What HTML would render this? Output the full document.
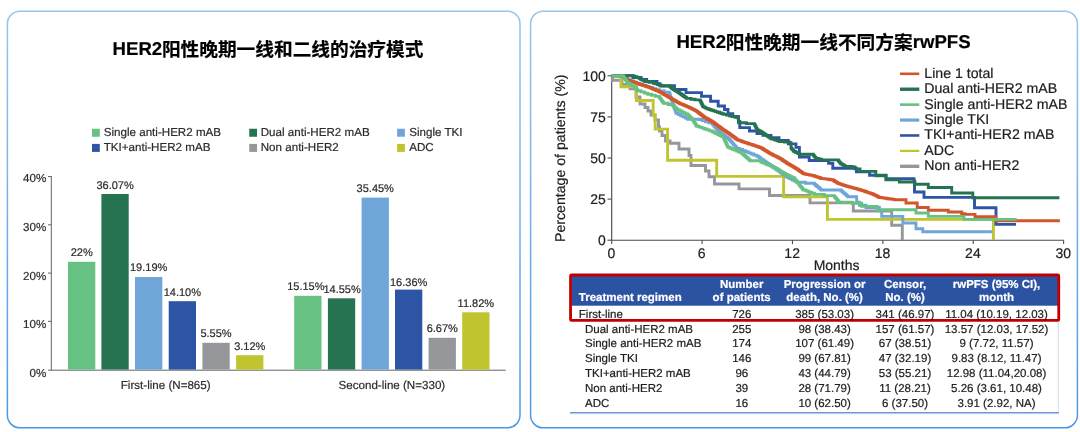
<!DOCTYPE html>
<html lang="zh"><head><meta charset="utf-8"><title>HER2 rwPFS</title>
<style>
html,body{margin:0;padding:0;background:#fff;}
body{width:1080px;height:432px;position:relative;overflow:hidden;font-family:"Liberation Sans", sans-serif;}
#stage{position:absolute;left:0;top:0;width:1080px;height:432px;filter:blur(0.4px);}
svg{position:absolute;left:0;top:0;}
.sr{position:absolute;width:1px;height:1px;margin:-1px;padding:0;overflow:hidden;clip:rect(0 0 0 0);clip-path:inset(50%);white-space:nowrap;border:0;font-size:1px;}
.t{position:absolute;white-space:nowrap;font-family:"Liberation Sans", sans-serif;-webkit-text-stroke:0.2px currentColor;text-rendering:geometricPrecision;}
</style></head><body>
<div id="stage">
<svg width="1080" height="432" viewBox="0 0 1080 432">
<defs><linearGradient id="pg" x1="0" y1="0" x2="0" y2="1"><stop offset="0" stop-color="#97c5ee"/><stop offset="1" stop-color="#4a99e6"/></linearGradient></defs>
<rect x="7.4" y="11.2" width="512.6" height="416.6" rx="12.5" ry="12.5" fill="#fff" stroke="url(#pg)" stroke-width="1.5"/>
<rect x="530.6" y="11.2" width="546.8" height="416.6" rx="12.5" ry="12.5" fill="#fff" stroke="url(#pg)" stroke-width="1.5"/>
<text x="161.9" y="56" font-family="'Liberation Sans', 'Noto Sans CJK SC', sans-serif" font-size="18.68" font-weight="bold" fill="#000" stroke="#000" stroke-width="0.2" textLength="261.5" lengthAdjust="spacing">阳性晚期一线和二线的治疗模式</text>
<rect x="92" y="128.75" width="7.8" height="8" fill="#66c183"/>
<rect x="92" y="143.9" width="7.8" height="8" fill="#2e55a5"/>
<rect x="249.25" y="128.75" width="7.8" height="8" fill="#267352"/>
<rect x="249.25" y="143.9" width="7.8" height="8" fill="#96979a"/>
<rect x="397.1" y="128.75" width="7.8" height="8" fill="#6fa5d8"/>
<rect x="397.1" y="143.9" width="7.8" height="8" fill="#bfc42f"/>
<path d="M51.3 176 V370.2 M48 370.2 H505.8" stroke="#5c5c5c" stroke-width="0.95" fill="none"/>
<path d="M48 321.34 H51.3" stroke="#5c5c5c" stroke-width="0.95"/>
<path d="M48 273.08 H51.3" stroke="#5c5c5c" stroke-width="0.95"/>
<path d="M48 224.82 H51.3" stroke="#5c5c5c" stroke-width="0.95"/>
<path d="M48 176.56 H51.3" stroke="#5c5c5c" stroke-width="0.95"/>
<rect x="68" y="261.8" width="27.3" height="107.80" fill="#66c183"/>
<rect x="101.4" y="194.0" width="27.3" height="175.60" fill="#267352"/>
<rect x="135" y="277.0" width="27.3" height="92.60" fill="#6fa5d8"/>
<rect x="168.7" y="301.2" width="27.3" height="68.40" fill="#2e55a5"/>
<rect x="202.4" y="342.8" width="27.3" height="26.80" fill="#96979a"/>
<rect x="236.1" y="355.2" width="27.3" height="14.40" fill="#bfc42f"/>
<rect x="294.2" y="295.8" width="27.3" height="73.80" fill="#66c183"/>
<rect x="327.9" y="298.3" width="27.3" height="71.30" fill="#267352"/>
<rect x="361.6" y="197.6" width="27.3" height="172.00" fill="#6fa5d8"/>
<rect x="395.0" y="289.6" width="27.3" height="80.00" fill="#2e55a5"/>
<rect x="428.6" y="337.8" width="27.3" height="31.80" fill="#96979a"/>
<rect x="462.2" y="312.3" width="27.3" height="57.30" fill="#bfc42f"/>
<text x="725.7" y="49.1" font-family="'Liberation Sans', 'Noto Sans CJK SC', sans-serif" font-size="18.7" font-weight="bold" fill="#000" stroke="#000" stroke-width="0.2" textLength="187" lengthAdjust="spacing">阳性晚期一线不同方案</text>
<path d="M611.6999999999999 75.6 V240.2 H1063.7" stroke="#4c4c4c" stroke-width="1.15" fill="none"/>
<path d="M607.5 240.20 H611.4" stroke="#4c4c4c" stroke-width="1.1"/>
<path d="M607.5 199.10 H611.4" stroke="#4c4c4c" stroke-width="1.1"/>
<path d="M607.5 158.00 H611.4" stroke="#4c4c4c" stroke-width="1.1"/>
<path d="M607.5 116.90 H611.4" stroke="#4c4c4c" stroke-width="1.1"/>
<path d="M607.5 75.80 H611.4" stroke="#4c4c4c" stroke-width="1.1"/>
<path d="M611.70 240.2 V244.1" stroke="#4c4c4c" stroke-width="1.1"/>
<path d="M702.08 240.2 V244.1" stroke="#4c4c4c" stroke-width="1.1"/>
<path d="M792.46 240.2 V244.1" stroke="#4c4c4c" stroke-width="1.1"/>
<path d="M882.84 240.2 V244.1" stroke="#4c4c4c" stroke-width="1.1"/>
<path d="M973.22 240.2 V244.1" stroke="#4c4c4c" stroke-width="1.1"/>
<path d="M1063.60 240.2 V244.1" stroke="#4c4c4c" stroke-width="1.1"/>
<g>
<path d="M611.8 75.8H612.3V80.3H622.0V84.5H630.0V88.7H636.0V97.0H640.0V104.0H645.0V107.5H648.0V111.0H651.0V115.0H655.0V120.0H658.5V127.0H659.5V131.0H662.0V135.5H665.5V141.0H670.0V143.3H679.0V149.0H689.0V155.5H691.0V165.5H705.5V171.0H709.0V176.7H714.5V184.0H739.0V188.9H769.5V195.5H810.0V202.9H853.3V211.0H891.7V225.3H902.3V240.0" stroke="#96979a" stroke-width="2.9" fill="none" stroke-linejoin="miter"/>
<path d="M611.8 75.8H621.0V86.7H636.5V100.5H653.2V115.0H655.2V129.1H667.6V160.3H716.7V176.4H783.6V196.9H827.4V219.4H993.4V240.0" stroke="#bfc42f" stroke-width="2.9" fill="none" stroke-linejoin="miter"/>
<path d="M611.8 75.8H622.0V75.8H623.4V76.8H624.9V77.9H626.3V79.0H627.7V80.0H630.6V81.0H633.5V82.1H636.4V83.2H639.3V84.2H642.6V85.3H646.0V86.4H649.3V87.5H652.6V88.7H656.0V89.8H659.3V91.0H664.3V92.2H669.3V93.5H670.0V95.6H670.6V97.8H671.3V99.9H672.0V102.0H672.7V103.9H673.3V105.8H674.0V107.7H674.7V109.5H675.3V111.4H676.0V113.3H678.3V114.5H680.7V115.7H683.0V116.8H685.4V118.0H687.7V119.2H699.0V119.5H702.3V120.6H705.6V121.8H708.9V122.9H712.2V124.0H713.2V125.1H714.1V126.2H715.1V127.3H716.1V128.5H717.1V129.6H718.0V130.7H719.0V131.8H720.4V132.9H721.9V134.0H723.3V135.1H724.7V136.2H726.1V137.3H727.6V138.4H729.0V139.5H730.0V140.6H730.9V141.7H731.9V142.8H732.9V143.9H733.8V145.1H734.8V146.2H735.7V147.3H736.7V148.4H739.6V149.5H742.6V150.7H745.5V151.8H748.3V152.9H751.1V154.0H753.9V155.1H756.7V156.2H759.0V157.8H760.6V158.9H762.2V160.0H763.9V161.1H765.5V162.2H767.1V163.4H768.8V164.5H770.4V165.6H772.0V166.7H773.6V167.8H775.2V168.9H776.7V170.0H778.3V171.1H779.9V172.2H781.5V173.4H783.1V174.5H784.6V175.6H786.2V176.7H787.8V177.8H790.0V178.9H792.2V180.0H794.5V181.1H796.7V182.2H805.5V183.3H814.4V184.4H815.7V185.5H817.0V186.6H818.4V187.8H819.7V188.9H821.0V190.0H841.0V191.0H842.4V192.1H843.7V193.3H845.1V194.4H846.4V195.6H847.8V196.7H856.7V202.2H859.4V205.3H866.0V207.5H879.4V210.9H881.7V216.4H899.4V216.4H902.8V223.0H915.0V223.0H916.0V228.7H921.7V228.7H922.8V231.7H992.3V231.7" stroke="#6fa5d8" stroke-width="2.9" fill="none" stroke-linejoin="miter"/>
<path d="M611.8 75.6H633.0V77.5H641.0V79.5H646.7V81.4H657.0V83.6H660.0V85.7H674.5V89.5H686.0V92.6H701.5V96.3H710.6V101.2H718.2V106.0H724.5V109.5H728.0V113.7H732.8V116.5H738.4V121.5H739.8V127.6H749.5V131.0H757.0V133.5H763.0V135.4H771.0V137.6H779.0V140.4H788.3V143.9H796.0V147.4H799.4V157.0H809.2V160.5H828.6V163.3H832.8V168.2H856.4V171.7H869.6V175.3H886.0V178.7H914.0V181.0H914.5V192.0H924.0V197.4H974.5V207.8H996.0V224.4H1016.0V224.4" stroke="#2e55a5" stroke-width="2.9" fill="none" stroke-linejoin="miter"/>
<path d="M611.8 75.8H622.0V75.8H622.6V76.3H623.3V76.7H623.9V77.2H624.5V77.7H625.2V78.1H625.8V78.6H626.4V79.1H627.1V79.5H627.7V80.0H628.8V80.4H629.8V80.8H630.9V81.1H631.9V81.5H633.0V81.9H634.0V82.3H635.1V82.7H636.1V83.1H637.2V83.4H638.2V83.8H639.3V84.2H640.5V84.6H641.8V85.0H643.0V85.4H644.3V85.8H645.5V86.3H646.8V86.7H648.0V87.1H649.3V87.5H650.2V87.9H651.1V88.3H652.0V88.6H652.9V89.0H653.8V89.4H654.8V89.8H655.7V90.2H656.6V90.6H657.5V90.9H658.4V91.3H659.3V91.7H660.0V92.1H660.7V92.5H661.4V92.9H662.2V93.4H662.9V93.8H663.6V94.2H664.3V94.6H665.0V95.0H665.7V95.4H666.4V95.8H667.2V96.3H667.9V96.7H668.6V97.1H669.3V97.5H670.0V97.9H670.7V98.3H671.4V98.7H672.2V99.2H672.9V99.6H673.6V100.0H674.3V100.4H675.0V100.8H675.7V101.2H676.4V101.6H677.2V102.1H677.9V102.5H678.6V102.9H679.3V103.3H680.2V103.7H681.1V104.1H682.0V104.4H682.9V104.8H683.8V105.2H684.8V105.6H685.7V106.0H686.6V106.4H687.5V106.7H688.4V107.1H689.3V107.5H690.0V107.9H690.8V108.3H691.5V108.6H692.3V109.0H693.0V109.4H693.8V109.8H694.5V110.1H695.3V110.5H696.0V110.9H696.6V111.4H697.3V111.9H697.9V112.4H698.6V112.8H699.2V113.3H699.8V113.8H700.5V114.3H701.1V114.8H701.7V115.3H702.4V115.7H703.0V116.2H703.7V116.7H704.3V117.2H705.0V117.6H705.7V118.0H706.4V118.4H707.1V118.8H707.8V119.2H708.5V119.6H709.2V120.0H709.9V120.4H710.6V120.8H711.3V121.2H712.0V121.6H712.7V122.0H713.3V122.5H714.0V123.0H714.6V123.5H715.3V123.9H715.9V124.4H716.5V124.9H717.2V125.4H717.8V125.9H718.4V126.4H719.1V126.8H719.7V127.3H720.4V127.8H721.0V128.3H721.6V128.7H722.3V129.1H722.9V129.6H723.6V130.0H724.2V130.4H724.8V130.8H725.5V131.3H726.1V131.7H726.7V132.1H727.4V132.5H728.0V133.0H728.7V133.4H729.3V133.8H729.9V134.2H730.5V134.7H731.1V135.1H731.7V135.6H732.3V136.0H732.9V136.5H733.5V136.9H734.1V137.3H734.7V137.8H735.3V138.2H735.9V138.7H736.5V139.1H737.1V139.6H737.7V140.0H738.9V140.4H740.1V140.8H741.3V141.2H742.4V141.7H743.6V142.1H744.8V142.5H746.0V142.9H747.2V143.3H748.4V143.7H749.6V144.1H750.7V144.4H751.9V144.8H753.1V145.2H754.3V145.6H755.5V146.0H756.6V146.4H757.8V146.8H759.0V147.2H760.1V147.6H761.3V148.0H761.9V148.4H762.5V148.8H763.2V149.2H763.8V149.6H764.4V150.0H765.0V150.4H765.6V150.8H766.3V151.1H766.9V151.5H767.5V151.9H768.1V152.3H768.8V152.7H769.4V153.1H770.0V153.5H770.8V153.9H771.7V154.3H772.5V154.8H773.3V155.2H774.2V155.6H775.0V156.0H775.8V156.4H776.7V156.8H777.5V157.2H778.3V157.7H779.2V158.1H780.0V158.5H780.6V158.9H781.3V159.3H781.9V159.8H782.6V160.2H783.2V160.6H783.8V161.0H784.5V161.5H785.1V161.9H785.7V162.3H786.4V162.7H787.0V163.2H787.7V163.6H788.3V164.0H789.0V164.4H789.7V164.8H790.4V165.2H791.1V165.6H791.8V166.0H792.5V166.4H793.2V166.9H793.9V167.3H794.6V167.7H795.3V168.1H796.0V168.5H796.7V168.9H797.3V169.3H798.0V169.8H798.6V170.2H799.2V170.7H799.8V171.1H800.5V171.5H801.1V172.0H801.7V172.4H802.3V172.9H803.0V173.3H803.6V173.8H805.5V174.2H807.5V174.6H809.4V175.0H811.4V175.4H813.3V175.8H814.5V176.2H815.7V176.6H816.9V177.0H818.1V177.4H819.3V177.8H820.5V178.2H821.7V178.6H824.5V178.9H827.2V179.3H830.0V179.7H832.8V180.0H833.4V180.4H834.0V180.8H834.6V181.2H835.2V181.6H835.9V181.9H836.5V182.3H837.1V182.7H837.7V183.1H838.3V183.5H839.5V183.9H840.7V184.3H841.9V184.7H843.1V185.1H844.3V185.5H845.5V185.9H846.7V186.2H848.1V186.6H849.5V187.0H850.9V187.4H852.2V187.8H853.6V188.1H855.0V188.5H856.4V188.9H857.8V189.3H859.2V189.7H860.6V190.1H862.0V190.5H863.2V190.9H864.4V191.3H865.6V191.7H866.8V192.1H868.0V192.6H869.2V193.0H870.4V193.4H871.6V193.8H872.8V194.2H873.6V194.6H874.4V195.0H875.3V195.4H876.1V195.8H876.9V196.3H877.8V196.7H878.6V197.1H879.4V197.5H882.0V197.9H884.6V198.3H887.2V198.7H889.8V199.0H892.4V199.4H895.0V199.8H906.0V203.0H917.2V207.5H928.3V210.2H948.3V212.0H961.7V213.6H965.0V214.4H975.0V216.7H996.0V220.7H1059.9V220.7" stroke="#d2562b" stroke-width="2.9" fill="none" stroke-linejoin="miter"/>
<path d="M611.8 75.8H633.0V76.1H634.9V76.7H636.7V77.2H638.1V77.9H639.5V78.6H640.9V79.3H642.2V80.1H643.6V80.8H645.0V81.5H649.1V82.3H653.3V83.2H655.4V83.9H657.5V84.6H659.6V85.3H661.7V86.0H670.0V86.8H670.8V87.5H671.6V88.2H672.5V88.8H673.3V89.5H674.5V90.2H675.8V91.0H677.0V91.8H678.3V92.5H679.3V93.2H680.4V94.0H681.5V94.7H682.5V95.5H683.5V96.2H684.6V96.9H685.7V97.7H686.7V98.4H690.9V99.2H695.0V99.9H700.0V100.5H700.6V101.8H701.2V103.0H701.8V104.2H702.4V105.5H703.0V106.8H704.3V107.4H705.7V108.1H707.0V108.8H709.1V109.5H711.2V110.2H713.3V110.9H715.4V111.6H717.5V112.3H719.6V113.0H721.7V113.7H723.8V114.4H726.5V115.1H729.3V115.8H732.0V116.5H734.9V117.2H737.7V117.9H738.5V122.7H746.4V123.6H754.3V124.4H755.0V125.7H755.6V127.0H756.3V128.4H757.0V129.7H758.1V130.4H759.3V131.0H760.4V131.7H761.6V132.3H762.7V133.0H763.7V133.7H764.8V134.4H765.8V135.1H766.9V135.8H767.9V136.6H768.9V137.3H770.0V138.0H771.0V138.7H773.1V139.4H775.1V140.1H777.2V140.8H779.3V141.5H784.5V142.1H789.7V142.7H791.0V148.0H791.6V148.7H792.2V149.4H792.8V150.1H793.4V150.8H794.0V151.5H795.4V152.2H796.7V152.9H798.0V153.6H799.4V154.3H813.3V155.3H814.0V156.1H814.6V156.9H815.3V157.7H816.0V158.5H818.9V159.2H821.7V159.9H838.3V160.8H839.0V161.6H839.6V162.4H840.3V163.2H841.0V164.0H842.4V164.8H843.9V165.6H845.3V166.4H852.2V166.9H855.0V168.9H860.0V171.4H875.8V175.8H886.0V179.8H899.4V182.0H915.0V184.2H928.3V187.5H951.7V193.0H972.8V197.7H1059.4V197.7" stroke="#267352" stroke-width="2.9" fill="none" stroke-linejoin="miter"/>
<path d="M611.8 75.8H622.7V75.8H623.3V76.7H624.0V77.7H624.6V78.6H625.2V79.5H625.8V80.5H626.5V81.4H627.1V82.4H627.7V83.3H629.9V84.4H632.1V85.6H634.3V86.7H635.1V87.7H636.0V88.8H636.9V89.8H637.7V90.8H641.0V91.9H644.4V93.1H647.7V94.2H651.6V95.3H655.4V96.4H659.3V97.5H660.0V98.5H660.7V99.4H661.4V100.4H662.1V101.4H662.8V102.3H663.5V103.3H668.1V104.5H672.7V105.8H674.0V106.8H675.2V107.9H676.5V109.0H677.7V110.0H679.7V111.0H681.7V112.0H683.7V113.0H685.7V114.0H687.7V115.0H688.7V116.0H689.7V117.0H690.7V118.0H691.7V119.0H692.7V120.0H693.4V121.0H694.0V122.1H694.7V123.1H695.4V124.1H696.0V125.2H696.7V126.2H699.3V127.1H701.9V128.1H704.5V129.0H707.0V129.9H709.6V130.9H712.2V131.8H714.1V132.7H715.9V133.6H717.8V134.6H719.6V135.5H721.4V136.4H723.3V137.3H723.9V138.7H724.6V140.2H725.2V141.6H725.9V143.0H726.5V144.4H727.2V145.9H727.8V147.3H730.0V148.2H732.2V149.2H734.4V150.1H736.6V151.0H738.8V152.0H741.0V152.9H742.1V153.9H743.2V154.8H744.4V155.8H745.5V156.8H746.6V157.8H747.8V158.8H748.9V159.7H750.0V160.7H761.0V162.2H763.2V163.1H765.5V164.1H767.7V165.0H769.9V165.9H772.2V166.9H774.4V167.8H776.0V168.7H777.6V169.7H779.2V170.6H780.7V171.6H782.3V172.5H783.9V173.5H785.5V174.4H787.7V175.5H790.0V176.7H792.2V177.8H794.4V178.9H795.2V179.9H796.0V180.9H796.8V181.9H797.6V182.9H798.4V183.9H799.3V185.0H800.1V186.0H800.9V187.0H801.7V188.0H802.5V189.0H803.3V190.0H806.1V191.1H808.8V192.2H811.6V193.3H814.4V194.4H824.4V195.6H834.4V196.7H835.1V197.6H835.9V198.5H836.6V199.4H837.4V200.4H838.1V201.3H838.9V202.2H852.2V203.3H861.7V206.4H877.2V209.8H914.0V209.8H916.0V213.0H928.3V216.4H961.7V216.4H964.0V219.4H1016.8V219.4" stroke="#66c183" stroke-width="2.9" fill="none" stroke-linejoin="miter"/>
</g>
<path d="M900 73.80 H919.3" stroke="#d2562b" stroke-width="2.6"/>
<path d="M900 89.22 H919.3" stroke="#267352" stroke-width="3.4"/>
<path d="M900 104.64 H919.3" stroke="#66c183" stroke-width="2.6"/>
<path d="M900 120.06 H919.3" stroke="#6fa5d8" stroke-width="3.2"/>
<path d="M900 135.48 H919.3" stroke="#2e55a5" stroke-width="2.6"/>
<path d="M900 150.90 H919.3" stroke="#bfc42f" stroke-width="2.2"/>
<path d="M900 166.32 H919.3" stroke="#96979a" stroke-width="3.4"/>
<rect x="571.5" y="276.0" width="486.5" height="29.7" fill="#2c52a2"/>
<rect x="570.55" y="275.0" width="488.2" height="45.4" rx="1" fill="none" stroke="#c00000" stroke-width="2.8"/>
<path d="M1058.3 322 V413" stroke="#e3e5ec" stroke-width="1.4"/>
<path d="M570 413.7 H1058.8" stroke="#d5dff0" stroke-width="1.2"/>
<path d="M570 412.7 H1058.8" stroke="#4d7cc9" stroke-width="1.0"/>
</svg>
<h2 class="sr">HER2阳性晚期一线和二线的治疗模式</h2>
<h2 class="sr">HER2阳性晚期一线不同方案rwPFS</h2>
<div class="t" style="top:38.00px;font-size:18.6px;line-height:21px;color:#000;font-weight:bold;left:112.60px;">HER2</div>
<div class="t" style="top:127.00px;font-size:11.6px;line-height:12px;color:#2b2b2b;left:103.75px;">Single anti-HER2 mAB</div>
<div class="t" style="top:142.00px;font-size:11.6px;line-height:12px;color:#2b2b2b;left:103.75px;">TKI+anti-HER2 mAB</div>
<div class="t" style="top:127.00px;font-size:11.6px;line-height:12px;color:#2b2b2b;left:260.75px;">Dual anti-HER2 mAB</div>
<div class="t" style="top:142.00px;font-size:11.6px;line-height:12px;color:#2b2b2b;left:260.75px;">Non anti-HER2</div>
<div class="t" style="top:127.00px;font-size:11.6px;line-height:12px;color:#2b2b2b;left:409.25px;">Single TKI</div>
<div class="t" style="top:142.00px;font-size:11.6px;line-height:12px;color:#2b2b2b;left:409.25px;">ADC</div>
<div class="t" style="top:368.00px;font-size:11.6px;line-height:12px;color:#2b2b2b;right:1033.80px;">0%</div>
<div class="t" style="top:319.00px;font-size:11.6px;line-height:12px;color:#2b2b2b;right:1033.80px;">10%</div>
<div class="t" style="top:271.00px;font-size:11.6px;line-height:12px;color:#2b2b2b;right:1033.80px;">20%</div>
<div class="t" style="top:222.00px;font-size:11.6px;line-height:12px;color:#2b2b2b;right:1033.80px;">30%</div>
<div class="t" style="top:173.00px;font-size:11.6px;line-height:12px;color:#2b2b2b;right:1033.80px;">40%</div>
<div class="t" style="top:247.00px;font-size:11px;line-height:12px;color:#2b2b2b;left:-68.35px;width:300px;text-align:center;">22%</div>
<div class="t" style="top:180.00px;font-size:11px;line-height:12px;color:#2b2b2b;left:-34.95px;width:300px;text-align:center;">36.07%</div>
<div class="t" style="top:262.00px;font-size:11px;line-height:12px;color:#2b2b2b;left:-1.35px;width:300px;text-align:center;">19.19%</div>
<div class="t" style="top:287.00px;font-size:11px;line-height:12px;color:#2b2b2b;left:32.35px;width:300px;text-align:center;">14.10%</div>
<div class="t" style="top:328.00px;font-size:11px;line-height:12px;color:#2b2b2b;left:66.05px;width:300px;text-align:center;">5.55%</div>
<div class="t" style="top:341.00px;font-size:11px;line-height:12px;color:#2b2b2b;left:99.75px;width:300px;text-align:center;">3.12%</div>
<div class="t" style="top:281.00px;font-size:11px;line-height:12px;color:#2b2b2b;left:155.85px;width:300px;text-align:center;">15.15%</div>
<div class="t" style="top:284.00px;font-size:11px;line-height:12px;color:#2b2b2b;left:192.05px;width:300px;text-align:center;">14.55%</div>
<div class="t" style="top:183.00px;font-size:11px;line-height:12px;color:#2b2b2b;left:225.25px;width:300px;text-align:center;">35.45%</div>
<div class="t" style="top:277.00px;font-size:11px;line-height:12px;color:#2b2b2b;left:258.65px;width:300px;text-align:center;">16.36%</div>
<div class="t" style="top:323.00px;font-size:11px;line-height:12px;color:#2b2b2b;left:292.25px;width:300px;text-align:center;">6.67%</div>
<div class="t" style="top:298.00px;font-size:11px;line-height:12px;color:#2b2b2b;left:325.85px;width:300px;text-align:center;">11.82%</div>
<div class="t" style="top:380.00px;font-size:11.6px;line-height:12px;color:#2b2b2b;left:15.70px;width:300px;text-align:center;">First-line (N=865)</div>
<div class="t" style="top:380.00px;font-size:11.6px;line-height:12px;color:#2b2b2b;left:241.90px;width:300px;text-align:center;">Second-line (N=330)</div>
<div class="t" style="top:31.00px;font-size:18.6px;line-height:21px;color:#000;font-weight:bold;left:676.40px;">HER2</div>
<div class="t" style="top:31.00px;font-size:18.6px;line-height:21px;color:#000;font-weight:bold;left:912.70px;">rwPFS</div>
<div class="t" style="top:232.00px;font-size:14.0px;line-height:16px;color:#202020;right:474.20px;">0</div>
<div class="t" style="top:191.00px;font-size:14.0px;line-height:16px;color:#202020;right:474.20px;">25</div>
<div class="t" style="top:150.00px;font-size:14.0px;line-height:16px;color:#202020;right:474.20px;">50</div>
<div class="t" style="top:109.00px;font-size:14.0px;line-height:16px;color:#202020;right:474.20px;">75</div>
<div class="t" style="top:68.00px;font-size:14.0px;line-height:16px;color:#202020;right:474.20px;">100</div>
<div class="t" style="top:245.00px;font-size:14.0px;line-height:16px;color:#202020;left:461.40px;width:300px;text-align:center;">0</div>
<div class="t" style="top:245.00px;font-size:14.0px;line-height:16px;color:#202020;left:551.78px;width:300px;text-align:center;">6</div>
<div class="t" style="top:245.00px;font-size:14.0px;line-height:16px;color:#202020;left:642.16px;width:300px;text-align:center;">12</div>
<div class="t" style="top:245.00px;font-size:14.0px;line-height:16px;color:#202020;left:732.54px;width:300px;text-align:center;">18</div>
<div class="t" style="top:245.00px;font-size:14.0px;line-height:16px;color:#202020;left:822.92px;width:300px;text-align:center;">24</div>
<div class="t" style="top:245.00px;font-size:14.0px;line-height:16px;color:#202020;left:913.30px;width:300px;text-align:center;">30</div>
<div class="t" style="top:257.00px;font-size:14.0px;line-height:16px;color:#202020;left:686.60px;width:300px;text-align:center;">Months</div>
<div class="t" style="left:565.30px;top:241.80px;font-size:14.15px;line-height:14.15px;color:#202020;transform-origin:0 0;transform:rotate(-90deg) translateY(-11.98px);">Percentage of patients (%)</div>
<div class="t" style="top:65.00px;font-size:14.15px;line-height:16px;color:#202020;left:924.30px;">Line 1 total</div>
<div class="t" style="top:80.00px;font-size:14.15px;line-height:16px;color:#202020;left:924.30px;">Dual anti-HER2 mAB</div>
<div class="t" style="top:96.00px;font-size:14.15px;line-height:16px;color:#202020;left:924.30px;">Single anti-HER2 mAB</div>
<div class="t" style="top:111.00px;font-size:14.15px;line-height:16px;color:#202020;left:924.30px;">Single TKI</div>
<div class="t" style="top:126.00px;font-size:14.15px;line-height:16px;color:#202020;left:924.30px;">TKI+anti-HER2 mAB</div>
<div class="t" style="top:142.00px;font-size:14.15px;line-height:16px;color:#202020;left:924.30px;">ADC</div>
<div class="t" style="top:157.00px;font-size:14.15px;line-height:16px;color:#202020;left:924.30px;">Non anti-HER2</div>
<div class="t" style="top:292.00px;font-size:11.5px;line-height:12px;color:#fff;font-weight:bold;left:578.80px;">Treatment regimen</div>
<div class="t" style="top:279.00px;font-size:11.5px;line-height:12px;color:#fff;font-weight:bold;left:591.70px;width:300px;text-align:center;">Number</div>
<div class="t" style="top:292.00px;font-size:11.5px;line-height:12px;color:#fff;font-weight:bold;left:591.70px;width:300px;text-align:center;">of patients</div>
<div class="t" style="top:279.00px;font-size:11.5px;line-height:12px;color:#fff;font-weight:bold;left:674.60px;width:300px;text-align:center;">Progression or</div>
<div class="t" style="top:292.00px;font-size:11.5px;line-height:12px;color:#fff;font-weight:bold;left:674.60px;width:300px;text-align:center;">death, No. (%)</div>
<div class="t" style="top:279.00px;font-size:11.5px;line-height:12px;color:#fff;font-weight:bold;left:755.10px;width:300px;text-align:center;">Censor,</div>
<div class="t" style="top:292.00px;font-size:11.5px;line-height:12px;color:#fff;font-weight:bold;left:755.10px;width:300px;text-align:center;">No. (%)</div>
<div class="t" style="top:279.00px;font-size:11.5px;line-height:12px;color:#fff;font-weight:bold;left:846.50px;width:300px;text-align:center;">rwPFS (95% CI),</div>
<div class="t" style="top:292.00px;font-size:11.5px;line-height:12px;color:#fff;font-weight:bold;left:846.50px;width:300px;text-align:center;">month</div>
<div class="t" style="top:309.00px;font-size:11.5px;line-height:12px;color:#202020;left:578.80px;">First-line</div>
<div class="t" style="top:309.00px;font-size:11.5px;line-height:12px;color:#202020;left:591.80px;width:300px;text-align:center;">726</div>
<div class="t" style="top:309.00px;font-size:11.5px;line-height:12px;color:#202020;left:674.60px;width:300px;text-align:center;">385 (53.03)</div>
<div class="t" style="top:309.00px;font-size:11.5px;line-height:12px;color:#202020;left:755.00px;width:300px;text-align:center;">341 (46.97)</div>
<div class="t" style="top:309.00px;font-size:11.5px;line-height:12px;color:#202020;left:846.50px;width:300px;text-align:center;">11.04 (10.19, 12.03)</div>
<div class="t" style="top:324.00px;font-size:11.5px;line-height:12px;color:#202020;left:585.00px;">Dual anti-HER2 mAB</div>
<div class="t" style="top:324.00px;font-size:11.5px;line-height:12px;color:#202020;left:591.80px;width:300px;text-align:center;">255</div>
<div class="t" style="top:324.00px;font-size:11.5px;line-height:12px;color:#202020;left:674.60px;width:300px;text-align:center;">98 (38.43)</div>
<div class="t" style="top:324.00px;font-size:11.5px;line-height:12px;color:#202020;left:755.00px;width:300px;text-align:center;">157 (61.57)</div>
<div class="t" style="top:324.00px;font-size:11.5px;line-height:12px;color:#202020;left:846.50px;width:300px;text-align:center;">13.57 (12.03, 17.52)</div>
<div class="t" style="top:338.00px;font-size:11.5px;line-height:12px;color:#202020;left:585.00px;">Single anti-HER2 mAB</div>
<div class="t" style="top:338.00px;font-size:11.5px;line-height:12px;color:#202020;left:591.80px;width:300px;text-align:center;">174</div>
<div class="t" style="top:338.00px;font-size:11.5px;line-height:12px;color:#202020;left:674.60px;width:300px;text-align:center;">107 (61.49)</div>
<div class="t" style="top:338.00px;font-size:11.5px;line-height:12px;color:#202020;left:755.00px;width:300px;text-align:center;">67 (38.51)</div>
<div class="t" style="top:338.00px;font-size:11.5px;line-height:12px;color:#202020;left:846.50px;width:300px;text-align:center;">9 (7.72, 11.57)</div>
<div class="t" style="top:353.00px;font-size:11.5px;line-height:12px;color:#202020;left:585.00px;">Single TKI</div>
<div class="t" style="top:353.00px;font-size:11.5px;line-height:12px;color:#202020;left:591.80px;width:300px;text-align:center;">146</div>
<div class="t" style="top:353.00px;font-size:11.5px;line-height:12px;color:#202020;left:674.60px;width:300px;text-align:center;">99 (67.81)</div>
<div class="t" style="top:353.00px;font-size:11.5px;line-height:12px;color:#202020;left:755.00px;width:300px;text-align:center;">47 (32.19)</div>
<div class="t" style="top:353.00px;font-size:11.5px;line-height:12px;color:#202020;left:846.50px;width:300px;text-align:center;">9.83 (8.12, 11.47)</div>
<div class="t" style="top:368.00px;font-size:11.5px;line-height:12px;color:#202020;left:585.00px;">TKI+anti-HER2 mAB</div>
<div class="t" style="top:368.00px;font-size:11.5px;line-height:12px;color:#202020;left:591.80px;width:300px;text-align:center;">96</div>
<div class="t" style="top:368.00px;font-size:11.5px;line-height:12px;color:#202020;left:674.60px;width:300px;text-align:center;">43 (44.79)</div>
<div class="t" style="top:368.00px;font-size:11.5px;line-height:12px;color:#202020;left:755.00px;width:300px;text-align:center;">53 (55.21)</div>
<div class="t" style="top:368.00px;font-size:11.5px;line-height:12px;color:#202020;left:846.50px;width:300px;text-align:center;">12.98 (11.04,20.08)</div>
<div class="t" style="top:383.00px;font-size:11.5px;line-height:12px;color:#202020;left:585.00px;">Non anti-HER2</div>
<div class="t" style="top:383.00px;font-size:11.5px;line-height:12px;color:#202020;left:591.80px;width:300px;text-align:center;">39</div>
<div class="t" style="top:383.00px;font-size:11.5px;line-height:12px;color:#202020;left:674.60px;width:300px;text-align:center;">28 (71.79)</div>
<div class="t" style="top:383.00px;font-size:11.5px;line-height:12px;color:#202020;left:755.00px;width:300px;text-align:center;">11 (28.21)</div>
<div class="t" style="top:383.00px;font-size:11.5px;line-height:12px;color:#202020;left:846.50px;width:300px;text-align:center;">5.26 (3.61, 10.48)</div>
<div class="t" style="top:398.00px;font-size:11.5px;line-height:12px;color:#202020;left:585.00px;">ADC</div>
<div class="t" style="top:398.00px;font-size:11.5px;line-height:12px;color:#202020;left:591.80px;width:300px;text-align:center;">16</div>
<div class="t" style="top:398.00px;font-size:11.5px;line-height:12px;color:#202020;left:674.60px;width:300px;text-align:center;">10 (62.50)</div>
<div class="t" style="top:398.00px;font-size:11.5px;line-height:12px;color:#202020;left:755.00px;width:300px;text-align:center;">6 (37.50)</div>
<div class="t" style="top:398.00px;font-size:11.5px;line-height:12px;color:#202020;left:846.50px;width:300px;text-align:center;">3.91 (2.92, NA)</div>
</div>
</body></html>
